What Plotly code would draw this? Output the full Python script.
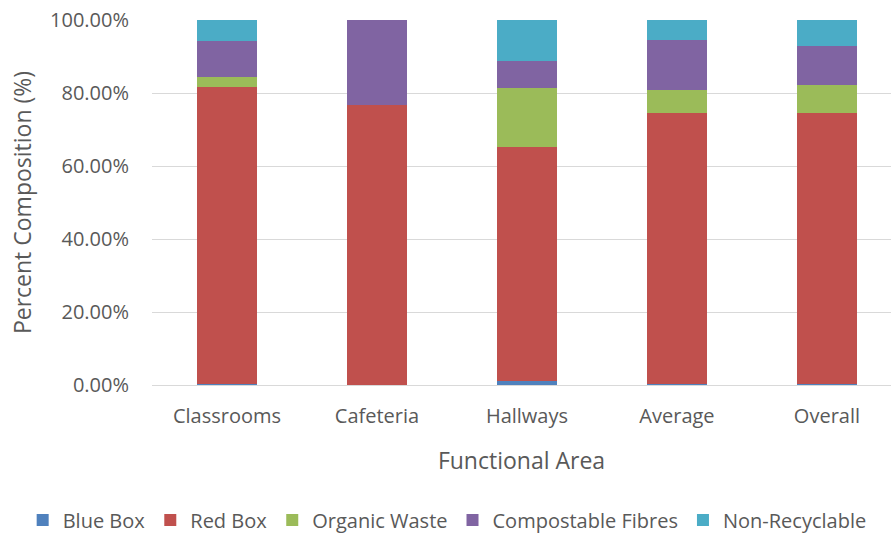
import plotly.graph_objects as go

# Functional areas sampled in the waste audit
areas = ["Classrooms", "Cafeteria", "Hallways", "Average", "Overall"]

# Percent composition of each waste stream per functional area
blue_box = [0.3, 0.1, 1.0, 0.4, 0.4]
red_box = [81.3, 76.5, 64.1, 74.0, 74.0]
organic_waste = [2.8, 0.0, 16.3, 6.5, 7.7]
compostable_fibres = [9.9, 23.4, 7.4, 13.5, 10.9]
non_recyclable = [5.7, 0.0, 11.2, 5.6, 7.0]

y_ticks = [0, 20, 40, 60, 80, 100]
y_tick_labels = ["0.00%", "20.00%", "40.00%", "60.00%", "80.00%", "100.00%"]

series = [
    ("Blue Box", blue_box, "#4F81BD"),
    ("Red Box", red_box, "#C0504D"),
    ("Organic Waste", organic_waste, "#9BBB59"),
    ("Compostable Fibres", compostable_fibres, "#8064A2"),
    ("Non-Recyclable", non_recyclable, "#4BACC6"),
]

text_color = "#595959"
font_family = "Open Sans"

fig = go.Figure()
for name, values, color in series:
    fig.add_trace(go.Bar(
        x=areas, y=values, name=name,
        marker=dict(color=color, line=dict(width=0)),
    ))

fig.update_layout(
    barmode="stack",
    bargap=0.6,
    width=891, height=540,
    margin=dict(l=152, r=0, t=20, b=153),
    plot_bgcolor="white",
    paper_bgcolor="white",
    font=dict(family=font_family, color=text_color, size=20),
    legend=dict(
        orientation="h",
        x=-0.175, xanchor="left",
        y=-0.37, yanchor="middle",
        font=dict(size=20, color=text_color),
        traceorder="normal",
        itemwidth=30,
    ),
    xaxis=dict(
        range=[-0.5, 4.427],
        showgrid=False,
        showline=True, linecolor="#D9D9D9", linewidth=1,
        ticks="",
        tickfont=dict(size=20, color=text_color),
        ticklabelstandoff=13,
        title=dict(text="Functional Area", font=dict(size=23, color=text_color), standoff=24),
        automargin=False,
    ),
    yaxis=dict(
        range=[0, 100],
        tickvals=y_ticks, ticktext=y_tick_labels,
        showgrid=True, gridcolor="#D9D9D9", gridwidth=1,
        zeroline=False,
        ticks="",
        tickfont=dict(size=20, color=text_color),
        ticklabelstandoff=22,
        title=dict(text="Percent Composition (%)", font=dict(size=23, color=text_color), standoff=11),
        automargin=False,
    ),
)

fig.write_html("out.html")
